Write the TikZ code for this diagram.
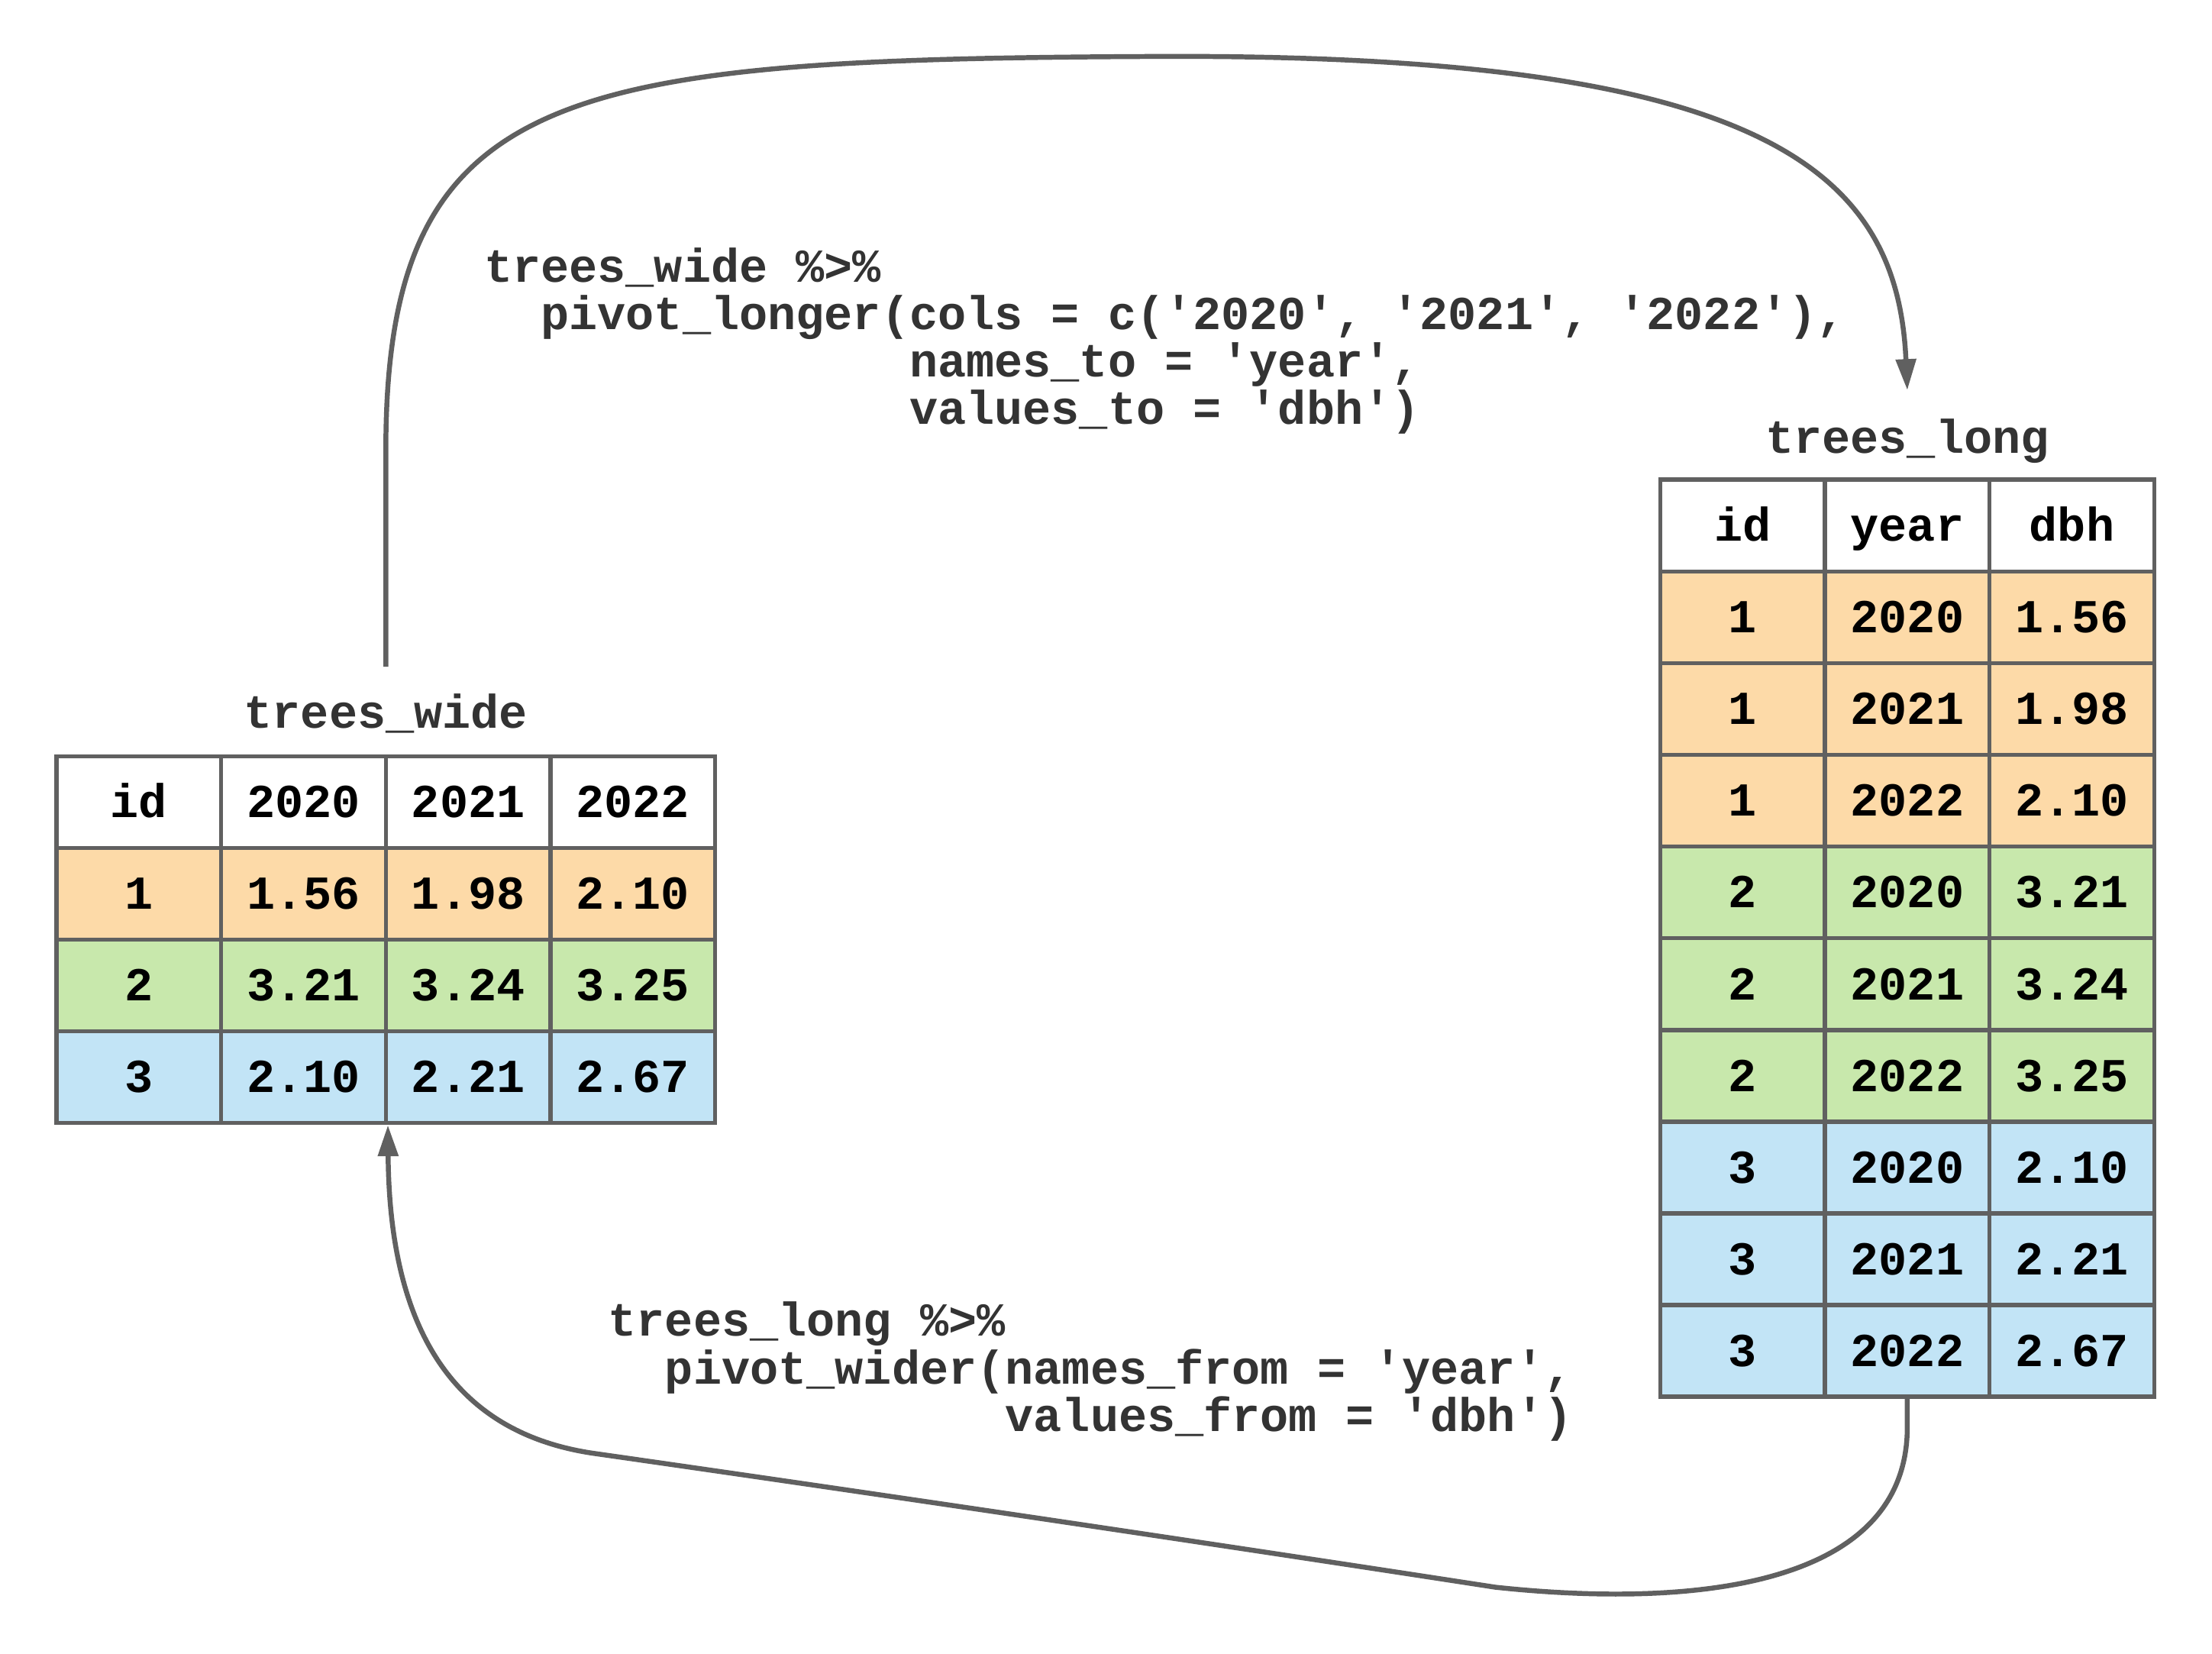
\documentclass[tikz,border=0pt]{standalone}
\usepackage{fontspec}
\newfontfamily\monofam{Liberation Mono}
\usetikzlibrary{arrows.meta}
\definecolor{linegray}{RGB}{96,96,96}
\definecolor{txtgray}{RGB}{51,51,51}
\definecolor{peach}{RGB}{253,218,168}
\definecolor{green}{RGB}{200,232,172}
\definecolor{blue}{RGB}{194,228,246}
\newcommand\cf{\monofam\bfseries\fontsize{33.5}{34}\selectfont}
\tikzset{
  cell/.style={draw=linegray, line width=3pt, minimum width=116.75pt, minimum height=65pt,
    inner sep=0pt, font=\cf, text=black, text height=26pt, text depth=4pt},
  ttl/.style={font=\cf, text=txtgray, anchor=base, inner sep=3pt},
  codeline/.style={font=\cf, text=txtgray, anchor=base west, inner sep=0pt},
  conn/.style={draw=linegray, line width=3.5pt, -{Triangle[length=22pt,width=14pt]}}
}
\begin{document}
\begin{tikzpicture}[x=1pt,y=-1pt]
\fill[white] (0,0) rectangle (1568,1172);
% left table
\foreach \r/\fc/\a/\b/\c/\d in {0/white/id/2020/2021/2022, 1/peach/1/1.56/1.98/2.10, 2/green/2/3.21/3.24/3.25, 3/blue/3/2.10/2.21/2.67}{
  \node[cell, fill=\fc] (w\r1) at (98.4, {568.5+65*\r}) {\a};
  \node[cell, fill=\fc] (w\r2) at (215.1, {568.5+65*\r}) {\b};
  \node[cell, fill=\fc] (w\r3) at (331.9, {568.5+65*\r}) {\c};
  \node[cell, fill=\fc] (w\r4) at (448.6, {568.5+65*\r}) {\d};
}
% right table
\foreach \r/\fc/\a/\b/\c in {0/white/id/year/dbh, 1/peach/1/2020/1.56, 2/peach/1/2021/1.98, 3/peach/1/2022/2.10, 4/green/2/2020/3.21, 5/green/2/2021/3.24, 6/green/2/2022/3.25, 7/blue/3/2020/2.10, 8/blue/3/2021/2.21, 9/blue/3/2022/2.67}{
  \node[cell, fill=\fc] (l\r1) at (1235.3, {372.5+65*\r}) {\a};
  \node[cell, fill=\fc] (l\r2) at (1352, {372.5+65*\r}) {\b};
  \node[cell, fill=\fc] (l\r3) at (1468.7, {372.5+65*\r}) {\c};
}
% titles
\node[ttl] (wt) at (273.5,516) {trees\_wide};
\node[ttl] (lt) at (1352,321) {trees\_long};
% code
\node[codeline] (c1) at (343,200) {trees\_wide \%>\%};
\node[codeline] (c2) at (343,233.5) {\hspace*{\dimexpr 0.6em*2\relax}pivot\_longer(cols = c('2020', '2021', '2022'),};
\node[codeline] (c3) at (343,267) {\hspace*{\dimexpr 0.6em*15\relax}names\_to = 'year',};
\node[codeline] (c4) at (343,300.5) {\hspace*{\dimexpr 0.6em*15\relax}values\_to = 'dbh')};
\node[codeline] (d1) at (431,947) {trees\_long \%>\%};
\node[codeline] (d2) at (431,981) {\hspace*{\dimexpr 0.6em*2\relax}pivot\_wider(names\_from = 'year',};
\node[codeline] (d3) at (431,1014.5) {\hspace*{\dimexpr 0.6em*14\relax}values\_from = 'dbh')};
% connectors
\draw[conn] ([yshift=16pt]wt.north) -- ++(0,-155)
  .. controls (274,60) and (400,42) .. (820,40)
  .. controls (1250,38) and (1345,120) .. ([yshift=17pt]lt.north);
\draw[conn] (l92.south) -- ++(0,20)
  .. controls (1352,1125) and (1200,1140) .. (1060,1125)
  .. controls (800,1085) and (560,1050) .. (420,1030)
  .. controls (320,1015) and (276,940) .. (w32.south east);
\end{tikzpicture}
\end{document}
